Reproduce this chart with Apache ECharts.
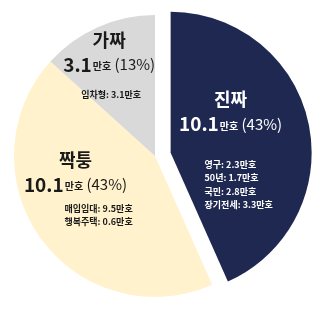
<!DOCTYPE html>
<html><head><meta charset="utf-8">
<script src="https://cdn.jsdelivr.net/npm/echarts@6/dist/echarts.min.js"></script>
<style>html,body{margin:0;padding:0;background:#fff}#c{width:332px;height:314px}</style>
</head><body><div id="c"></div>
<script>
const categories = ['진짜', '짝퉁', '가짜'];
const values = [10.1, 10.1, 3.1];
const percents = [43, 43, 13];
const details = [
  ['영구: 2.3만호', '50년: 1.7만호', '국민: 2.8만호', '장기전세: 3.3만호'],
  ['매입임대: 9.5만호', '행복주택: 0.6만호'],
  ['임차형: 3.1만호']
];

const colors = ['#1F2850', '#FFF2CC', '#D9D9D9'];
const textColors = ['#ffffff', '#1a1a1a', '#1a1a1a'];
const font = '"Noto Sans CJK KR", "Noto Sans", sans-serif';
const mainShift = [[-12, -26], [-20, -27], [-16, -37]];
const detShift = [[-38, 47], [-31, 16], [-44, 6]];

const chart = echarts.init(document.getElementById('c'), null, {renderer: 'canvas'});

function mainData() {
  return categories.map((n, i) => {
    const c = textColors[i];
    return {
      name: n, value: values[i], selected: i === 0,
      itemStyle: {color: colors[i]},
      label: {color: c, rich: {t: {color: c}, v: {color: c}, u: {color: c}, p: {color: c}}}
    };
  });
}
function detailData() {
  return categories.map((n, i) => ({
    name: n, value: values[i], selected: i === 0,
    itemStyle: {color: 'rgba(0,0,0,0)'},
    label: {color: textColors[i]}
  }));
}

const common = {
  type: 'pie', center: [155, 156], radius: 141, startAngle: 90, clockwise: true,
  selectedMode: 'single', selectedOffset: 16, silent: true, animation: false,
  labelLine: {show: false}, emphasis: {disabled: true}
};

chart.setOption({
  animation: false,
  series: [
    Object.assign({}, common, {
      data: mainData(),
      label: {
        show: true, position: 'inside', fontFamily: font,
        formatter: p => `{t|${p.name}}\n{v|${values[p.dataIndex]}}{u|만호}{p| (${percents[p.dataIndex]}%)}`,
        rich: {
          t: {fontSize: 18, fontWeight: 'bold', lineHeight: 25, fontFamily: font},
          v: {fontSize: 19, fontWeight: 'bold', lineHeight: 24, fontFamily: font},
          u: {fontSize: 10, fontWeight: 'bold', lineHeight: 24, fontFamily: font, padding: [4, 0, 0, 1]},
          p: {fontSize: 15, fontWeight: 'normal', lineHeight: 24, fontFamily: font}
        }
      },
      labelLayout: p => ({dx: mainShift[p.dataIndex][0], dy: mainShift[p.dataIndex][1]})
    }),
    Object.assign({}, common, {
      data: detailData(),
      label: {
        show: true, position: 'inside', fontFamily: font, fontSize: 9, fontWeight: 'bold',
        lineHeight: 13.5,
        formatter: p => details[p.dataIndex].join('\n')
      },
      labelLayout: p => ({align: 'left', dx: detShift[p.dataIndex][0], dy: detShift[p.dataIndex][1]})
    })
  ]
});
</script></body></html>
